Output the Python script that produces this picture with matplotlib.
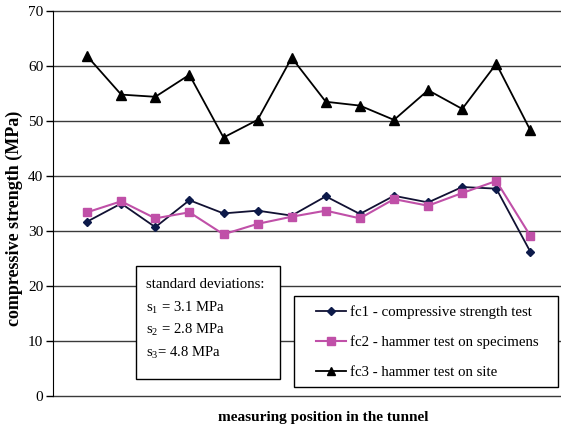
import matplotlib
matplotlib.use("Agg")
import matplotlib.pyplot as plt
from matplotlib.patches import Rectangle

positions = list(range(1, 15))
fc1 = [31.7, 35.0, 30.7, 35.6, 33.2, 33.7, 32.8, 36.3, 33.1, 36.4, 35.2, 38.0, 37.7, 26.2]
fc2 = [33.4, 35.4, 32.3, 33.4, 29.4, 31.3, 32.6, 33.7, 32.3, 35.8, 34.6, 36.9, 39.1, 29.1]
fc3 = [61.8, 54.8, 54.4, 58.4, 47.0, 50.2, 61.5, 53.5, 52.8, 50.2, 55.6, 52.2, 60.4, 48.3]
labels = ["fc1 - compressive strength test",
          "fc2 - hammer test on specimens",
          "fc3 - hammer test on site"]
yticks = [0, 10, 20, 30, 40, 50, 60, 70]
std_lines = ["standard deviations:", "s$_1$ = 3.1 MPa", "s$_2$ = 2.8 MPa", "s$_3$= 4.8 MPa"]

plt.rcParams['font.family'] = ['Liberation Serif', 'DejaVu Serif']
plt.rcParams['mathtext.fontset'] = 'custom'
plt.rcParams['mathtext.rm'] = 'Liberation Serif'
plt.rcParams['mathtext.it'] = 'Liberation Serif'

W, H = 561, 429
fig = plt.figure(figsize=(W / 100, H / 100), dpi=100)
x0, x1, ytop, ybot = 53, W, 11, 396
ax = fig.add_axes([x0 / W, 1 - ybot / H, (x1 - x0) / W, (ybot - ytop) / H])

def axx(px):
    return (px - x0) / (x1 - x0)

def axy(py):
    return (ybot - py) / (ybot - ytop)

for y in yticks:
    ax.axhline(y, color='#3a3a3a', lw=1.0, zorder=1, clip_on=False)

ax.plot(positions, fc1, color='#111133', lw=1.3, marker='D', ms=4.5,
        mfc='#0d1a4a', mec='#0d1a4a', label=labels[0], zorder=3)
ax.plot(positions, fc2, color='#c050a8', lw=1.5, marker='s', ms=6,
        mfc='#c050a8', mec='#c050a8', label=labels[1], zorder=3)
ax.plot(positions, fc3, color='black', lw=1.3, marker='^', ms=7,
        label=labels[2], zorder=3)

ax.set_xlim(0, (x1 - x0) / 34.1)
ax.set_ylim(0, 70)
ax.set_yticks(yticks)
ax.set_xticks([])
for s in ['top', 'right', 'bottom']:
    ax.spines[s].set_visible(False)
ax.spines['left'].set_color('black')
ax.tick_params(axis='y', direction='out', length=5, width=1, labelsize=11, pad=2)

ax.set_ylabel('compressive strength (MPa)', fontsize=13, fontweight='bold')
ax.yaxis.set_label_coords(axx(23), axy(218))
ax.set_xlabel('measuring position in the tunnel', fontsize=11, fontweight='bold')
ax.xaxis.set_label_coords(axx(323), axy(418))
ax.xaxis.label.set_va('center')

# legend frame drawn separately (inside the axes, below the legend), entries placed inside it
lrect = Rectangle((294 / W, 1 - 387 / H), (558 - 294) / W, (387 - 296) / H,
                  transform=fig.transFigure, facecolor='white', edgecolor='black',
                  lw=1.0, zorder=5, clip_on=False)
ax.add_patch(lrect)
leg = ax.legend(loc='center left', bbox_to_anchor=(axx(316), axy(342)),
                borderaxespad=0, frameon=False, fontsize=10.7, labelspacing=1.1,
                handlelength=2.0, handletextpad=0.27, borderpad=0, markerscale=0.9)
leg.set_zorder(6)

rect = Rectangle((136 / W, 1 - 379 / H), 144 / W, 113 / H, transform=fig.transFigure,
                 facecolor='white', edgecolor='black', lw=1.0, zorder=5, clip_on=False)
ax.add_patch(rect)
for i, t in enumerate(std_lines):
    fig.text(146 / W, 1 - (285 + 22.7 * i) / H, t, fontsize=10.6, va='center', ha='left', zorder=6)

fig.savefig('out.png', dpi=100)
